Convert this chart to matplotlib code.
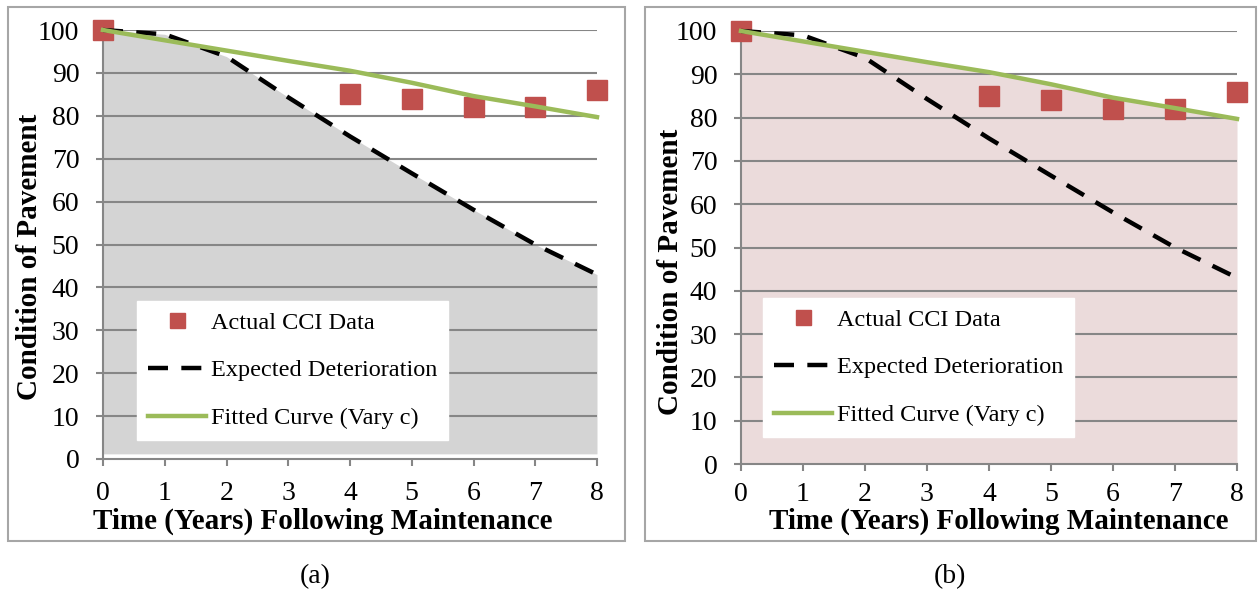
import matplotlib
import matplotlib.pyplot as plt
from matplotlib.patches import Rectangle
import numpy as np

matplotlib.use('Agg')
plt.rcParams['font.family'] = ['Liberation Serif', 'DejaVu Serif']

# data
years = [0, 1, 2, 3, 4, 5, 6, 7, 8]
actual_x = [0, 4, 5, 6, 7, 8]
actual_cci = [100, 85, 84, 82, 82, 86]
expected = [100, 99, 93.8, 84.3, 75.2, 66.6, 58.1, 50.0, 43.0]
fitted = [100, 97.6, 95.2, 92.8, 90.5, 87.7, 84.6, 82.2, 79.7]
yticks = [0, 10, 20, 30, 40, 50, 60, 70, 80, 90, 100]
panel_labels = ['(a)', '(b)']
legend_labels = ['Actual CCI Data', 'Expected Deterioration', 'Fitted Curve (Vary c)']

red = '#C0504D'
green = '#9BBB59'
grid_gray = '#868686'

W, H = 1258, 594
fig = plt.figure(figsize=(W / 100, H / 100), dpi=100)

# axes placement in pixels: left, right, y of 100, y of 0
axes_px = [(103, 597, 30, 459), (741, 1237, 31, 464)]
boxes_px = [(8, 7, 625, 541), (645, 7, 1256, 541)]
fills = ['#D4D4D4', '#EBDBDB']
fill_base = [1.2, 0]
legend_px = [(137, 301), (763, 298)]
ylab_px = [(30, 257), (670, 272)]
xlab_px = [(323, 521), (999, 521)]
xtick_pad = [11, 8]
cap_px = [(315, 577), (950, 577)]

for i in range(2):
    # panel frame
    x0, y0, x1, y1 = boxes_px[i]
    fig.patches.append(Rectangle((x0 / W, 1 - y1 / H), (x1 - x0) / W, (y1 - y0) / H,
                                 transform=fig.transFigure, fill=False,
                                 edgecolor='#A6A6A6', lw=1.5))

    l, r, t, b = axes_px[i]
    ax = fig.add_axes([l / W, 1 - b / H, (r - l) / W, (b - t) / H])
    ax.set_xlim(0, 8)
    ax.set_ylim(0, 100)

    for y in yticks[1:]:
        ax.axhline(y, color=grid_gray, lw=1.5, zorder=1)

    if i == 0:
        ax.fill_between(years, fill_base[i], expected, color=fills[i], lw=0, zorder=0)
    else:
        ax.fill_between(years, fill_base[i], fitted, color=fills[i], lw=0, zorder=0)

    ax.plot(actual_x, actual_cci, 's', color=red, ms=15, clip_on=False, zorder=3,
            label=legend_labels[0])
    ax.plot(years, expected, color='black', lw=3.2, dashes=(4.5, 3), zorder=4,
            clip_on=False, label=legend_labels[1])
    ax.plot(years, fitted, color=green, lw=3.2, zorder=5, clip_on=False,
            label=legend_labels[2])

    ax.set_xticks(years)
    ax.set_yticks(yticks)
    for s in ['top', 'right']:
        ax.spines[s].set_visible(False)
    for s in ['left', 'bottom']:
        ax.spines[s].set_color(grid_gray)
        ax.spines[s].set_linewidth(1.5)
    ax.tick_params(axis='both', colors=grid_gray, labelcolor='black', width=1.5,
                   length=5, labelsize=20)
    ax.tick_params(axis='x', pad=xtick_pad[i])
    ax.tick_params(axis='y', pad=12)

    # legend
    lx0, ly0 = legend_px[i]
    leg = ax.legend(loc='upper left',
                    bbox_to_anchor=((lx0 - l) / (r - l), (b - ly0) / (b - t)),
                    fontsize=17.5, frameon=True, fancybox=False, borderpad=0.45,
                    labelspacing=1.05, handlelength=2.4, handletextpad=0.2,
                    borderaxespad=0, markerscale=0.72)
    leg.get_frame().set_facecolor('white')
    leg.get_frame().set_edgecolor('white')
    leg.get_frame().set_alpha(1)
    leg.set_zorder(10)

    fig.text(ylab_px[i][0] / W, 1 - ylab_px[i][1] / H, 'Condition of Pavement',
             rotation=90, ha='center', va='center', fontsize=21, fontweight='bold')
    fig.text(xlab_px[i][0] / W, 1 - xlab_px[i][1] / H,
             'Time (Years) Following Maintenance',
             ha='center', va='center', fontsize=21, fontweight='bold')
    fig.text(cap_px[i][0] / W, 1 - cap_px[i][1] / H, panel_labels[i],
             ha='center', va='center', fontsize=20)

fig.savefig('out.png', dpi=100)
